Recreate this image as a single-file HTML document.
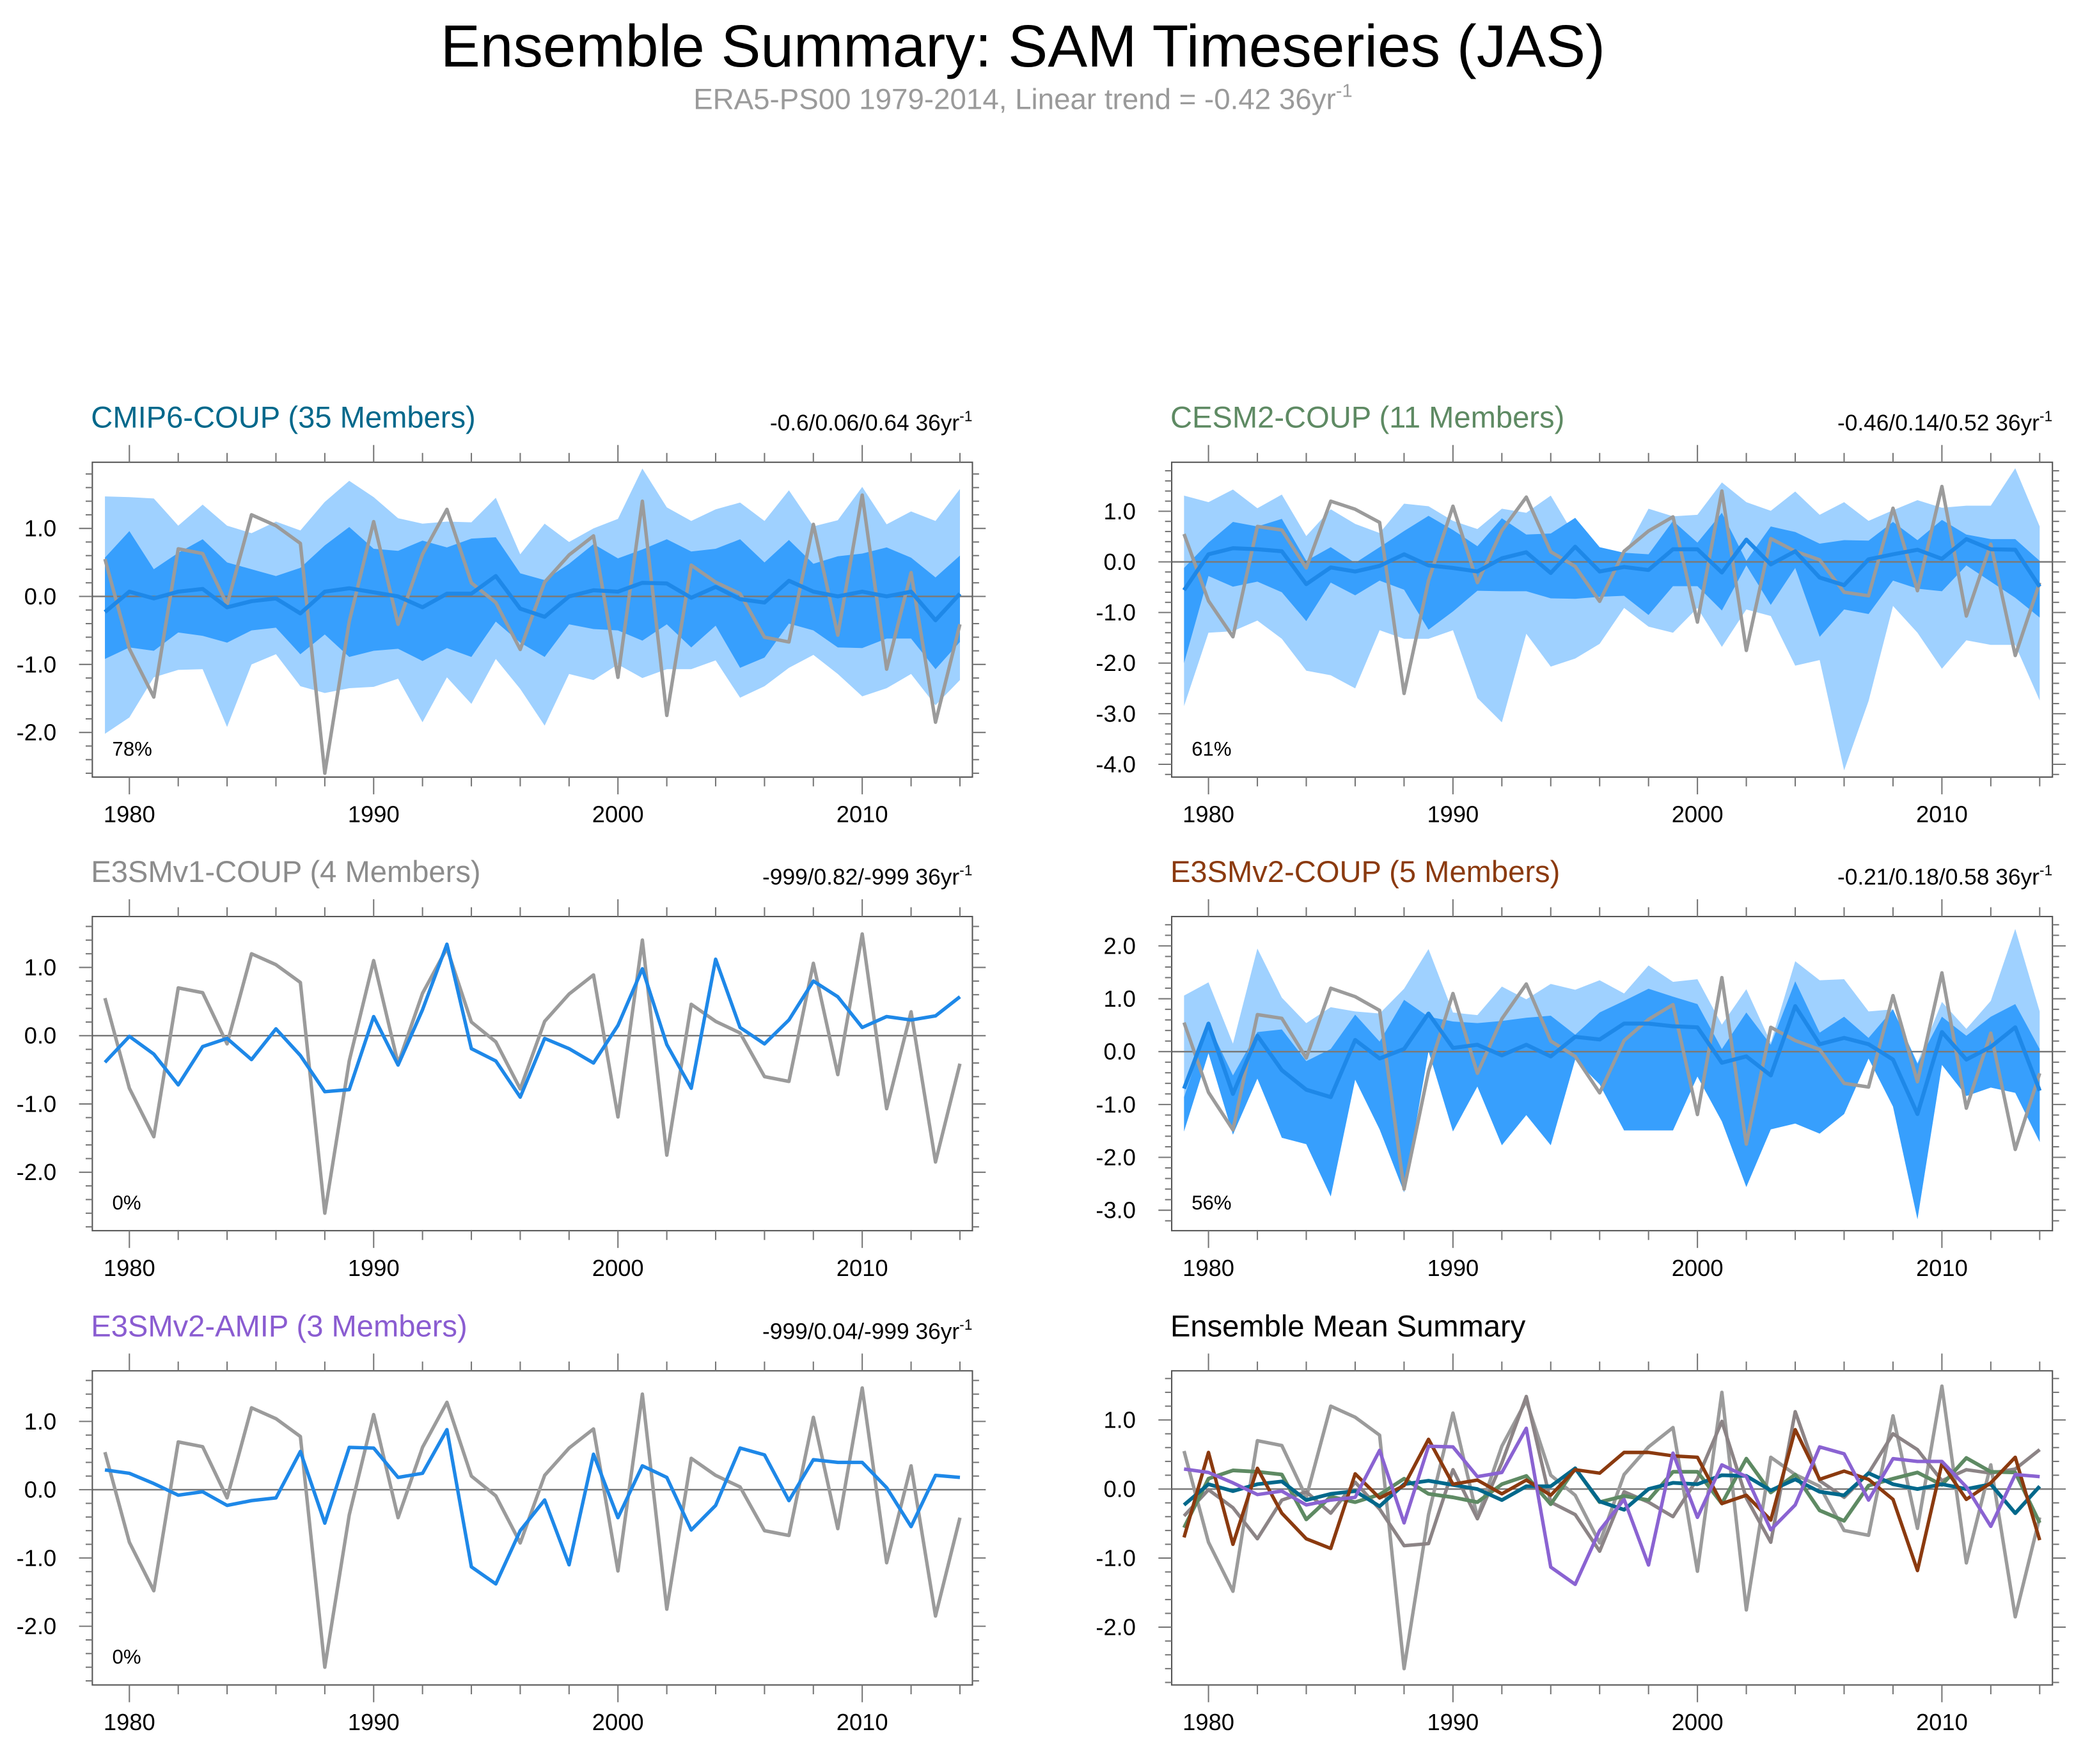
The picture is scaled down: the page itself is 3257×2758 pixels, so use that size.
<!DOCTYPE html>
<html><head><meta charset="utf-8">
<style>
html,body{margin:0;padding:0;background:#fff;}
svg{display:block;font-family:"Liberation Sans",Arial,sans-serif;}
</style></head>
<body>
<svg id="chart" xmlns="http://www.w3.org/2000/svg" width="3257" height="2758" viewBox="0 0 1568 1328" preserveAspectRatio="none">
<rect x="0" y="0" width="1568" height="1328" fill="#fff"/>
<text x="770" y="50" text-anchor="middle" font-size="44.7" fill="#000">Ensemble Summary: SAM Timeseries (JAS)</text>
<text x="770" y="82" text-anchor="middle" font-size="22" fill="#9a9a9a">ERA5-PS00 1979-2014, Linear trend = -0.42 36yr<tspan font-size="14" dy="-9">-1</tspan></text>
<g id="panels"></g>
</svg>
<script>
const years = Array.from({length:36},(_,i)=>1979+i);
const obs = [0.55,-0.77,-1.48,0.7,0.63,-0.12,1.2,1.04,0.78,-2.6,-0.37,1.1,-0.41,0.62,1.28,0.2,-0.09,-0.78,0.21,0.61,0.89,-1.19,1.4,-1.75,0.46,0.21,0.04,-0.6,-0.67,1.06,-0.57,1.49,-1.07,0.35,-1.85,-0.41];

const cmipMean = [-0.23,0.07,-0.03,0.07,0.11,-0.16,-0.07,-0.03,-0.25,0.07,0.12,0.06,0,-0.16,0.04,0.04,0.3,-0.18,-0.3,0,0.09,0.07,0.2,0.19,-0.02,0.14,-0.04,-0.09,0.23,0.07,0,0.07,0,0.07,-0.35,0.04];
const cmipDarkHi = [0.57,0.96,0.4,0.64,0.84,0.5,0.4,0.3,0.42,0.75,1.02,0.7,0.67,0.82,0.72,0.85,0.87,0.34,0.24,0.48,0.77,0.56,0.69,0.84,0.66,0.7,0.84,0.5,0.83,0.48,0.59,0.63,0.72,0.57,0.28,0.6];
const cmipDarkLo = [-0.92,-0.75,-0.8,-0.53,-0.58,-0.68,-0.5,-0.46,-0.85,-0.56,-0.89,-0.8,-0.77,-0.95,-0.76,-0.89,-0.37,-0.68,-0.89,-0.41,-0.48,-0.5,-0.65,-0.41,-0.75,-0.43,-1.05,-0.9,-0.4,-0.5,-0.75,-0.76,-0.62,-0.62,-1.07,-0.67];
const cmipLightHi = [1.47,1.46,1.44,1.04,1.35,1.04,0.93,1.1,0.97,1.39,1.7,1.46,1.15,1.07,1.1,1.09,1.45,0.62,1.07,0.8,1.0,1.14,1.88,1.31,1.11,1.28,1.38,1.11,1.56,1.03,1.12,1.61,1.06,1.25,1.11,1.58];
const cmipLightLo = [-2.02,-1.78,-1.19,-1.08,-1.07,-1.92,-1.0,-0.85,-1.32,-1.42,-1.35,-1.33,-1.21,-1.85,-1.19,-1.58,-0.92,-1.36,-1.9,-1.14,-1.23,-1.0,-1.2,-1.07,-1.07,-0.94,-1.49,-1.32,-1.05,-0.86,-1.14,-1.47,-1.35,-1.14,-1.6,-1.23];

const cesmMean = [-0.56,0.15,0.27,0.25,0.21,-0.44,-0.11,-0.19,-0.08,0.15,-0.07,-0.12,-0.19,0.07,0.19,-0.22,0.3,-0.19,-0.1,-0.16,0.25,0.25,-0.21,0.44,-0.05,0.21,-0.31,-0.46,0.05,0.15,0.24,0.06,0.45,0.25,0.24,-0.49];
const cesmDarkHi = [-0.12,0.38,0.79,0.7,0.85,0.02,0.29,-0.02,0.29,0.61,0.91,0.63,0.31,0.86,0.54,0.56,0.87,0.29,0.18,0.15,0.81,0.38,0.97,0.02,0.7,0.59,0.36,0.43,0.42,0.79,0.43,0.83,0.54,0.45,0.45,0.02];
const cesmDarkLo = [-2.0,-0.28,-0.49,-0.39,-0.6,-1.17,-0.41,-0.66,-0.37,-0.55,-1.34,-0.98,-0.57,-0.58,-0.58,-0.72,-0.73,-0.69,-0.67,-1.05,-0.48,-0.48,-0.96,-0.07,-0.85,-0.12,-1.48,-0.94,-1.03,-0.37,-0.53,-0.58,-0.07,-0.39,-0.71,-1.1];
const cesmLightHi = [1.31,1.18,1.43,1.06,1.33,0.51,1.04,0.75,0.57,1.15,1.1,0.81,0.65,1.05,0.97,1.31,0.5,0.22,0.15,1.05,0.9,0.93,1.57,1.18,1.01,1.39,0.93,1.18,0.81,1.02,1.22,1.07,1.11,1.11,1.85,0.7];
const cesmLightLo = [-2.85,-1.4,-1.37,-1.16,-1.52,-2.15,-2.24,-2.5,-1.35,-1.52,-1.52,-1.35,-2.69,-3.17,-1.42,-2.07,-1.91,-1.62,-0.91,-1.28,-1.4,-0.91,-1.68,-0.94,-1.07,-2.05,-1.94,-4.12,-2.75,-0.87,-1.4,-2.11,-1.55,-1.64,-1.64,-2.74];

const v1Mean = [-0.39,-0.01,-0.27,-0.72,-0.16,-0.04,-0.35,0.1,-0.29,-0.82,-0.79,0.28,-0.43,0.38,1.34,-0.19,-0.37,-0.9,-0.04,-0.19,-0.4,0.15,0.98,-0.13,-0.77,1.12,0.12,-0.12,0.23,0.8,0.57,0.12,0.28,0.23,0.29,0.57];

const v2Mean = [-0.7,0.53,-0.8,0.3,-0.35,-0.72,-0.86,0.22,-0.13,0.05,0.72,0.07,0.13,-0.07,0.13,-0.09,0.28,0.23,0.53,0.53,0.48,0.46,-0.21,-0.09,-0.45,0.86,0.14,0.26,0.14,-0.15,-1.18,0.37,-0.15,0.09,0.46,-0.74];
const v2DarkHi = [-0.86,0.52,-0.45,0.37,0.42,-0.18,0.05,0.7,0.19,0.98,0.66,0.57,0.54,0.58,0.64,0.68,0.32,0.74,0.96,1.19,1.04,0.9,0.05,0.74,0.13,1.33,0.36,0.66,0.26,0.8,-0.23,0.66,0.3,0.66,0.9,0.05];
const v2DarkLo = [-1.51,-0.03,-1.57,-0.51,-1.63,-1.75,-2.74,-0.53,-1.47,-2.66,0.01,-1.51,-0.66,-1.77,-1.2,-1.77,-0.15,-0.62,-1.49,-1.49,-1.49,-0.47,-1.32,-2.56,-1.47,-1.36,-1.55,-1.18,-0.13,-1.04,-3.17,-0.25,-0.84,-0.68,-0.78,-1.71];
const v2LightHi = [1.06,1.31,0.15,1.95,1.02,0.54,0.84,0.76,0.72,1.19,1.94,0.74,0.69,1.23,0.99,1.28,1.17,1.35,1.1,1.63,1.32,1.37,0.51,1.18,0.17,1.71,1.35,1.37,0.76,0.8,-0.21,0.94,0.43,0.96,2.32,0.76];

const amipMean = [0.29,0.24,0.09,-0.08,-0.03,-0.23,-0.16,-0.12,0.56,-0.49,0.62,0.61,0.18,0.24,0.88,-1.13,-1.38,-0.6,-0.15,-1.1,0.52,-0.41,0.35,0.18,-0.59,-0.23,0.61,0.51,-0.16,0.44,0.4,0.4,0.03,-0.54,0.21,0.18];

const C_LIGHT="#9fd1ff", C_DARK="#379ffd", C_MEAN="#1e88e8", C_OBS="#9b9b9b";
const NS="http://www.w3.org/2000/svg";
const root=document.getElementById('panels');
function mk(tag,attrs,parent){const e=document.createElementNS(NS,tag);for(const k in attrs)e.setAttribute(k,attrs[k]);(parent||root).appendChild(e);return e;}

function panel(p){
  const g=mk('g',{});
  
  
  const xs=v=>p.x0+(v-1979)*(p.x1-p.x0)/35;
  const ys=v=>p.zero-v*p.ppu;
  const clipId='clip-'+p.name;
  const cp=mk('clipPath',{id:clipId},g); mk('rect',{x:p.bx0,y:p.by0,width:p.bx1-p.bx0,height:p.by1-p.by0},cp);
  const pg=mk('g',{'clip-path':'url(#'+clipId+')'},g);
  function band(hi,lo,col,nm){
    let d='M'+years.map((y,i)=>xs(y).toFixed(2)+','+ys(hi[i]).toFixed(2)).join('L');
    for(let i=years.length-1;i>=0;i--)d+='L'+xs(years[i]).toFixed(2)+','+ys(lo[i]).toFixed(2);
    const e=mk('path',{d:d+'Z',fill:col},pg);
    
    
  }
  function line(vals,col,w,nm){
    const d='M'+years.map((y,i)=>xs(y).toFixed(2)+','+ys(vals[i]).toFixed(2)).join('L');
    const e=mk('path',{d:d,fill:'none',stroke:col,'stroke-width':w,'stroke-linejoin':'round'},pg);
    
    
  }
  if(p.lightHi){band(p.lightHi,p.lightLo,C_LIGHT,'light-spread-band');}
  if(p.darkHi){band(p.darkHi,p.darkLo,C_DARK,'dark-spread-band');}
  const zl=mk('line',{x1:p.bx0,x2:p.bx1,y1:ys(0),y2:ys(0),stroke:'#7a7a7a','stroke-width':1.2},pg);
  
  
  if(p.series){p.series.forEach(s=>line(s.v,s.c,s.w,s.n));}
  const fr=mk('rect',{x:p.bx0,y:p.by0,width:p.bx1-p.bx0,height:p.by1-p.by0,fill:'none',stroke:'#555','stroke-width':1},g);
  
  
  for(let yr=1980;yr<=2014;yr+=2){
    const maj=yr%10===0, L=maj?13:7, x=xs(yr);
    mk('line',{x1:x,x2:x,y1:p.by1,y2:p.by1+L,stroke:'#777','stroke-width':1},g);
    mk('line',{x1:x,x2:x,y1:p.by0,y2:p.by0-L,stroke:'#777','stroke-width':1},g);
    if(maj){const t=mk('text',{x:x,y:p.by1+34,'text-anchor':'middle','font-size':17.5,fill:'#000'},g);t.textContent=yr;
      
      }
  }
  const lo=(p.zero-p.by1)/p.ppu, hi=(p.zero-p.by0)/p.ppu;
  for(let k=Math.ceil(lo*5);k<=Math.floor(hi*5);k++){
    const v=k/5, y=ys(v), maj=(k%5===0), L=maj?10:5;
    mk('line',{x1:p.bx0,x2:p.bx0-L,y1:y,y2:y,stroke:'#777','stroke-width':1},g);
    mk('line',{x1:p.bx1,x2:p.bx1+L,y1:y,y2:y,stroke:'#777','stroke-width':1},g);
  }
  p.yticks.forEach(v=>{const t=mk('text',{x:p.bx0-27,y:ys(v)+6,'text-anchor':'end','font-size':17.5,fill:'#000'},g);t.textContent=v.toFixed(1);
    
    });
  const tt=mk('text',{x:p.bx0-1,y:p.by0-26,'font-size':22.7,fill:p.tcol},g);tt.textContent=p.title;
  
  
  if(p.right){const r=mk('text',{x:p.bx1,y:p.by0-24,'text-anchor':'end','font-size':17,fill:'#000'},g);
    r.textContent=p.right;const s=mk('tspan',{'font-size':11,dy:-7},r);s.textContent='-1';
    
    }
  if(p.pct){const t=mk('text',{x:p.bx0+15,y:p.by1-16,'font-size':15,fill:'#000'},g);t.textContent=p.pct;
    
    }
}

panel({name:'cmip6-coup-panel',bx0:69.5,bx1:732,by0:348,by1:585,x0:79,x1:722.6,zero:449,ppu:51.2,
  yticks:[1,0,-1,-2],title:'CMIP6-COUP (35 Members)',tcol:'#00688b',right:'-0.6/0.06/0.64 36yr',pct:'78%',
  lightHi:cmipLightHi,lightLo:cmipLightLo,darkHi:cmipDarkHi,darkLo:cmipDarkLo,
  series:[{v:obs,c:C_OBS,w:2.6,n:'era5-obs-line'},{v:cmipMean,c:C_MEAN,w:3,n:'ensemble-mean-line'}]});
panel({name:'cesm2-coup-panel',bx0:882,bx1:1545,by0:348,by1:585,x0:891.3,x1:1535.4,zero:423,ppu:38.1,
  yticks:[1,0,-1,-2,-3,-4],title:'CESM2-COUP (11 Members)',tcol:'#5e8a63',right:'-0.46/0.14/0.52 36yr',pct:'61%',
  lightHi:cesmLightHi,lightLo:cesmLightLo,darkHi:cesmDarkHi,darkLo:cesmDarkLo,
  series:[{v:obs,c:C_OBS,w:2.6,n:'era5-obs-line'},{v:cesmMean,c:C_MEAN,w:3,n:'ensemble-mean-line'}]});
panel({name:'e3smv1-coup-panel',bx0:69.5,bx1:732,by0:690,by1:926.5,x0:79,x1:722.6,zero:779.7,ppu:51.4,
  yticks:[1,0,-1,-2],title:'E3SMv1-COUP (4 Members)',tcol:'#8c8c8c',right:'-999/0.82/-999 36yr',pct:'0%',
  series:[{v:obs,c:C_OBS,w:2.6,n:'era5-obs-line'},{v:v1Mean,c:C_MEAN,w:2.6,n:'ensemble-mean-line'}]});
panel({name:'e3smv2-coup-panel',bx0:882,bx1:1545,by0:690,by1:926.5,x0:891.3,x1:1535.4,zero:791.7,ppu:39.8,
  yticks:[2,1,0,-1,-2,-3],title:'E3SMv2-COUP (5 Members)',tcol:'#8b3a0f',right:'-0.21/0.18/0.58 36yr',pct:'56%',
  lightHi:v2LightHi,lightLo:v2DarkLo,darkHi:v2DarkHi,darkLo:v2DarkLo,
  series:[{v:obs,c:C_OBS,w:2.6,n:'era5-obs-line'},{v:v2Mean,c:C_MEAN,w:3,n:'ensemble-mean-line'}]});
panel({name:'e3smv2-amip-panel',bx0:69.5,bx1:732,by0:1032,by1:1268.5,x0:79,x1:722.6,zero:1121.5,ppu:51.4,
  yticks:[1,0,-1,-2],title:'E3SMv2-AMIP (3 Members)',tcol:'#8a5cd1',right:'-999/0.04/-999 36yr',pct:'0%',
  series:[{v:obs,c:C_OBS,w:2.6,n:'era5-obs-line'},{v:amipMean,c:C_MEAN,w:2.6,n:'ensemble-mean-line'}]});
panel({name:'ensemble-mean-summary-panel',bx0:882,bx1:1545,by0:1032,by1:1268.5,x0:891.3,x1:1535.4,zero:1121,ppu:52,
  yticks:[1,0,-1,-2],title:'Ensemble Mean Summary',tcol:'#000',
  series:[{v:obs,c:C_OBS,w:2.6,n:'era5-obs-line'},{v:v1Mean,c:'#8c8486',w:2.6,n:'e3smv1-mean-line'},
    {v:cesmMean,c:'#5e8a63',w:2.8,n:'cesm2-mean-line'},{v:cmipMean,c:'#00688b',w:2.8,n:'cmip6-mean-line'},
    {v:v2Mean,c:'#8b3a0f',w:2.6,n:'e3smv2-coup-mean-line'},{v:amipMean,c:'#8a63d2',w:2.6,n:'e3smv2-amip-mean-line'}]});
</script>
</body></html>
